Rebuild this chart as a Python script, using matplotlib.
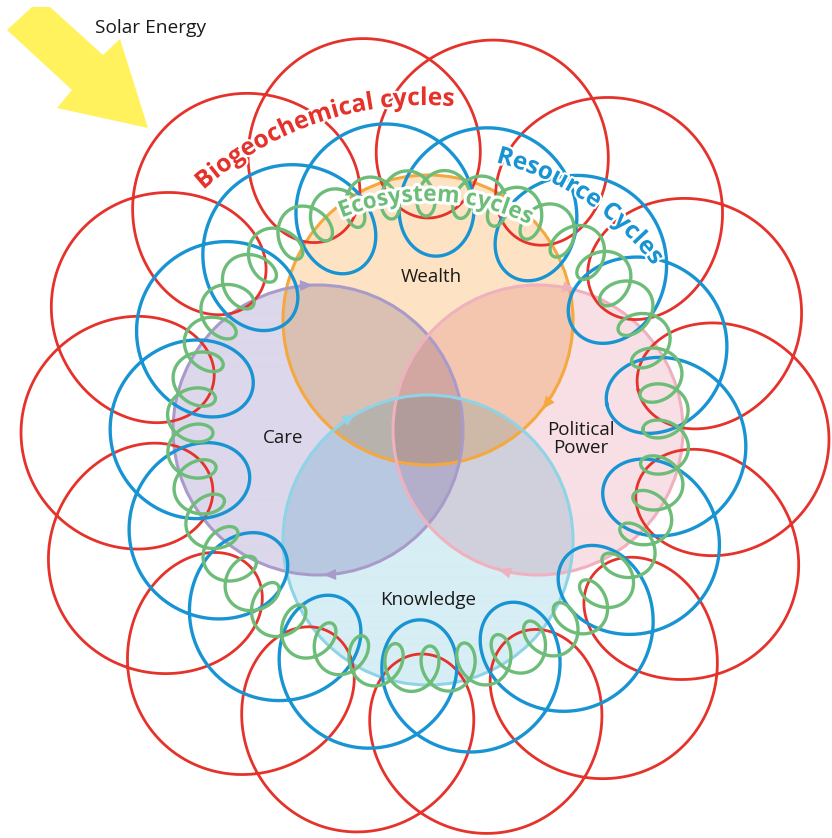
import numpy as np
import matplotlib
matplotlib.use("Agg")
import matplotlib.pyplot as plt
from matplotlib.patches import Circle, Polygon
from matplotlib.font_manager import FontProperties
from matplotlib.colors import to_rgb
import matplotlib.patheffects as pe

# labels / data
domains = ["Wealth", "Care", "Political\nPower", "Knowledge"]
domain_fill = ["#fde3c3", "#dcd7eb", "#f7dfe5", "#d7eef5"]
domain_edge = ["#f4a83e", "#a99bc9", "#eeb1bd", "#8fd3e7"]
cycle_names = ["Biogeochemical cycles", "Resource Cycles", "Ecosystem cycles"]
cycle_colors = ["#e5322b", "#1994d3", "#6dbd79"]
cycle_loops = [14, 14, 40]
solar_label = "Solar Energy"

FONT = "Open Sans"
W, H = 832, 838

fig = plt.figure(figsize=(W / 100, H / 100), dpi=100)
ax = fig.add_axes([0, 0, 1, 1])
ax.set_xlim(0, W)
ax.set_ylim(H, 0)
ax.axis("off")

# four overlapping domain circles (multiply-style blending)
CX, CY, OFF, RAD = 428, 430, 110, 145
dom_centers = [(CX, CY - OFF), (CX - OFF, CY), (CX + OFF, CY), (CX, CY + OFF)]
yy, xx = np.mgrid[0:H, 0:W] + 0.5
img = np.ones((H, W, 3))
for (cx, cy), col in zip(dom_centers, domain_fill):
    m = (xx - cx) ** 2 + (yy - cy) ** 2 <= RAD ** 2
    img[m] *= np.array(to_rgb(col))
ax.imshow(img, extent=(0, W, H, 0), aspect="auto", zorder=0)
ax.set_xlim(0, W)
ax.set_ylim(H, 0)

for (cx, cy), col in zip(dom_centers, domain_edge):
    ax.add_patch(Circle((cx, cy), RAD, fill=False, ec=col, lw=2.2, zorder=1))


def arrowhead(cx, cy, r, theta, color):
    t = np.radians(theta)
    p = np.array([cx + r * np.cos(t), cy - r * np.sin(t)])
    d = np.array([np.sin(t), np.cos(t)])  # clockwise tangent (image coords)
    n = np.array([-d[1], d[0]])
    b = p - 13 * d
    ax.add_patch(Polygon([p, b + 5.5 * n, b - 5.5 * n], closed=True,
                         fc=color, ec="none", zorder=1.5))


arrow_angles = [[-38], [92, -88], [75, -106], [120]]
for (cx, cy), col, angs in zip(dom_centers, domain_edge, arrow_angles):
    for a in angs:
        arrowhead(cx, cy, RAD, a, col)

label_pos = [(431, 277), (283, 438), (581, 439), (428, 600)]
for (x, y), lab in zip(label_pos, domains):
    ax.text(x, y, lab, ha="center", va="center", fontsize=13.5,
            family=FONT, color="#1a1a1a", linespacing=1.0, zorder=6)

# cycles: loops traced around a rotating centre
ring = [  # cx, cy, R, radial amp, tangential amp, inner-tip angle (deg), frame bias, lw
    (425, 436, 311, 93, 100, 12.2, 0.9, 2.0),
    (428, 438, 250, 68, 76, 10.7, 0.9, 2.4),
    (428, 431, 238, 23, 17, 0.5, 0.0, 2.4),
]
for (cx, cy, R, a, bt, tip, beta, lw), n, col, z in zip(ring, cycle_loops, cycle_colors, [2, 3, 4]):
    phi = np.linspace(0, 2 * np.pi * n, 400 * n)
    frame = np.radians(tip) + (phi + beta * np.sin(phi)) / n
    zr = (R - a * np.cos(phi)) - 1j * bt * np.sin(phi)
    zc = np.exp(1j * frame) * zr
    ax.plot(cx + zc.real, cy - zc.imag, color=col, lw=lw, zorder=z)

# solar energy arrow
arrow_pts = [(7, 30), (32, 7), (50, 7), (103, 55), (120, 39), (148, 128),
             (57, 108), (72, 90)]
ax.add_patch(Polygon(arrow_pts, closed=True, fc="#fff25c", ec="none", zorder=0.5))
ax.text(95, 28, solar_label, ha="left", va="center", fontsize=13.8,
        family=FONT, color="#1a1a1a", zorder=6)

# curved titles
renderer = fig.canvas.get_renderer()


def arc_text(text, cx, cy, r, theta_c, length, color, halo):
    fp = FontProperties(family=FONT, weight="bold", size=20)

    def width(s):
        return renderer.get_text_width_height_descent(s, fp, ismath=False)[0]

    fp.set_size(20 * length / width(text))
    total = width(text)
    for i, ch in enumerate(text):
        if ch == " ":
            continue
        s0 = width(text[:i]) if i else 0.0
        s1 = width(text[:i + 1])
        mid = (s0 + s1) / 2 - total / 2
        th = np.radians(theta_c) - mid / r
        ax.text(cx + r * np.cos(th), cy - r * np.sin(th), ch,
                fontproperties=fp, color=color, ha="center", va="baseline",
                rotation=np.degrees(th) - 90, rotation_mode="anchor", zorder=7,
                path_effects=[pe.withStroke(linewidth=halo, foreground="white")])


arc_specs = [  # cx, cy, baseline r, centre angle, arc length, halo
    (425, 436, 331, 108.5, 272, 3),
    (428, 437, 283, 56.7, 193, 3),
    (428, 432, 231, 88.0, 194, 4.5),
]
for (cx, cy, r, th, L, halo), name, col in zip(arc_specs, cycle_names, cycle_colors):
    arc_text(name, cx, cy, r, th, L, col, halo)

fig.savefig("out.png", dpi=100)
